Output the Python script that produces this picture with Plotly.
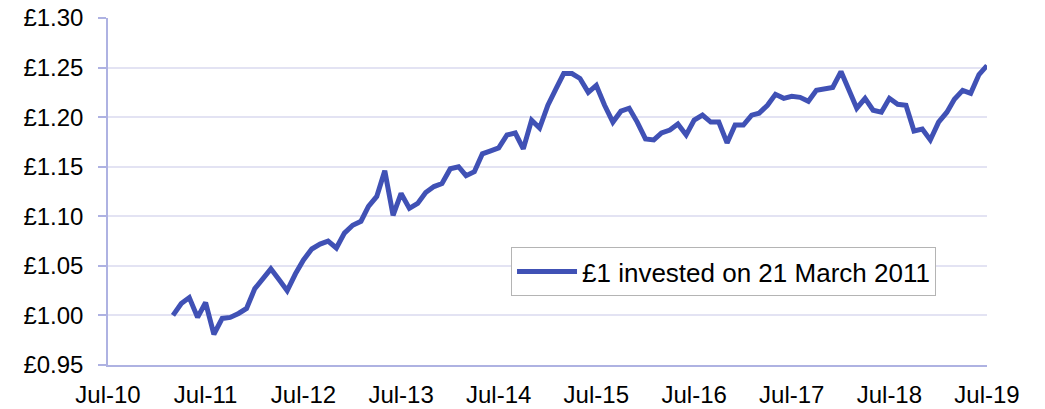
import plotly.graph_objects as go
import pandas as pd

dates = pd.date_range("2011-03-01", "2019-07-01", freq="MS")
values = [
    1.000, 1.012, 1.018, 0.998, 1.013, 0.981, 0.997, 0.998, 1.002, 1.007,
    1.027, 1.038, 1.047, 1.036, 1.025, 1.042, 1.056, 1.067, 1.072, 1.075, 1.068,
    1.083, 1.091, 1.095, 1.110, 1.120, 1.146, 1.101, 1.123, 1.108, 1.113,
    1.124, 1.130, 1.133, 1.148, 1.150, 1.141, 1.145, 1.163, 1.166,
    1.169, 1.182, 1.184, 1.168, 1.197, 1.189, 1.212, 1.229, 1.244, 1.244,
    1.239, 1.225, 1.232, 1.212, 1.195, 1.206, 1.209, 1.195, 1.178, 1.177,
    1.184, 1.187, 1.193, 1.182, 1.197, 1.202, 1.195, 1.195, 1.174, 1.192,
    1.192, 1.202, 1.204, 1.212, 1.223, 1.219, 1.221, 1.220, 1.216, 1.227,
    1.229, 1.230, 1.246, 1.225, 1.209, 1.219, 1.207, 1.205, 1.219, 1.213,
    1.212, 1.186, 1.188, 1.177, 1.195, 1.205, 1.218, 1.227, 1.224, 1.243, 1.252,
]
series_name = "£1 invested on 21 March 2011"

FONT = "Liberation Sans, Arial, sans-serif"
AXIS_COLOR = "#aeb2e2"
GRID_COLOR = "#e3e3f3"

fig = go.Figure()
fig.add_trace(go.Scatter(
    x=dates, y=values, mode="lines", name=series_name,
    line=dict(color="#4051b5", width=5),
))

fig.update_layout(
    width=1045, height=409,
    margin=dict(l=108, r=58, t=18, b=44),
    paper_bgcolor="white", plot_bgcolor="white",
    font=dict(family=FONT, size=24, color="black"),
    showlegend=True,
    legend=dict(
        x=0.4585, y=0.34, xanchor="left", yanchor="top",
        bgcolor="white", bordercolor="#b4b4b4", borderwidth=1,
        font=dict(size=26), itemwidth=60,
    ),
)
fig.update_xaxes(
    type="date",
    range=["2010-07-01", "2019-07-01"],
    tick0="2010-07-01", dtick="M12", tickformat="%b-%y",
    showgrid=False, showline=True, linecolor=AXIS_COLOR, linewidth=1.5,
    ticks="", ticklabelstandoff=7, automargin=False,
)
fig.update_yaxes(
    range=[0.95, 1.30], dtick=0.05, tick0=0.95,
    tickprefix="£", tickformat=".2f",
    showgrid=True, gridcolor=GRID_COLOR, gridwidth=1.5,
    showline=True, linecolor=AXIS_COLOR, linewidth=1.5,
    ticks="outside", ticklen=8, tickcolor=AXIS_COLOR, tickwidth=1.5,
    zeroline=False, automargin=False, ticklabelstandoff=10,
)

fig.write_html("out.html")
